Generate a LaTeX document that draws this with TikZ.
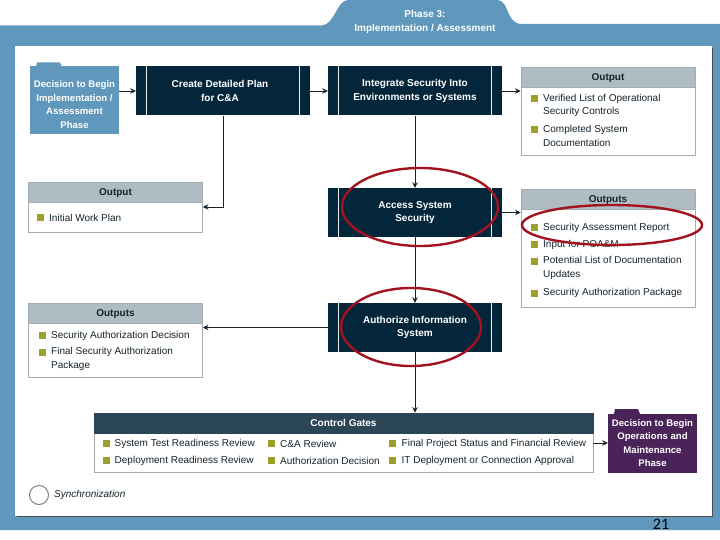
\documentclass[tikz,border=0pt]{standalone}
\usepackage{fontspec}
\setmainfont{Liberation Sans}
\newfontfamily\pagenum{Carlito}
\usetikzlibrary{arrows.meta,calc}
\definecolor{frameblue}{HTML}{5F98BC}
\definecolor{navy}{HTML}{04263B}
\definecolor{gatebar}{HTML}{2A4657}
\definecolor{headgrey}{HTML}{B0BCC4}
\definecolor{edgegrey}{HTML}{A3ADB3}
\definecolor{olive}{HTML}{9DA029}
\definecolor{plum}{HTML}{4A2458}
\definecolor{ringred}{HTML}{A3131F}
\definecolor{ink}{HTML}{16232C}
\newcommand{\fine}{\fontsize{10}{13.6}\selectfont}
\tikzset{
  stage/.style={fill=navy,text=white,minimum width=174,minimum height=49,inner sep=0,align=center,font=\fine\bfseries},
  outbox/.style={draw=edgegrey,line width=0.9pt,fill=white,minimum width=174,inner sep=0},
  outhead/.style={draw=edgegrey,line width=0.9pt,fill=headgrey,text=ink,minimum height=20,inner sep=0,text height=9pt,text depth=2pt,font=\fine\bfseries},
  item/.style={anchor=west,inner sep=0,text=ink,align=left,font=\fine},
  gate/.style={fill=#1,text=white,minimum width=89,minimum height=59,inner sep=0,align=center,font=\fontsize{9.6}{13.6}\selectfont\bfseries},
  flow/.style={ink,line width=0.9pt,-{Stealth[length=5.5pt,width=5.5pt]}},
  ring/.style={ringred,line width=2.4pt}
}
\begin{document}
\begin{tikzpicture}[x=1pt,y=-1pt]
\useasboundingbox (0,0) rectangle (720,540);
\fill[white] (0,0) rectangle (720,540);
% frame and tab
\fill[frameblue] (0,25.5) -- (322,25.5) .. controls (335,24) and (337,0) .. (348,0) -- (497,0) .. controls (510,0) and (505,24) .. (522,24) -- (720,24) -- (720,530) -- (0,530) -- cycle;
\fill[black!70] (17,48) rectangle (713,517);
\fill[white] (15,46) rectangle (711.5,515.5);
\node[inner sep=0,text=white,align=center,font=\fine\bfseries] (phase) at (425,22) {Phase 3:\\Implementation / Assessment};
% decision
\fill[frameblue] (36,67) -- (37,62.5) -- (60,62.5) -- (62,67) -- cycle;
\node[gate=frameblue,minimum height=68] (begin) at (74.5,100) {\rule{0pt}{16pt}Decision to Begin\\Implementation /\\Assessment\\Phase};
\fill[plum] (614,414) -- (615,409) -- (638,409) -- (640,414) -- cycle;
\node[gate=plum] (next) at (652.5,443) {Decision to Begin\\Operations and\\Maintenance\\Phase};
% stages
\node[stage] (plan) at (223,91) {Create Detailed Plan\hspace*{6pt}\\for C\&A\hspace*{6pt}};
\node[stage] (integrate) at (415,91) {Integrate Security Into\\Environments or Systems};
\node[stage] (access) at (415,212.5) {Access System\\Security};
\node[stage] (authorize) at (415,327.5) {Authorize Information\\System};
\foreach \n in {plan,integrate,access,authorize} {
  \draw[white!75!headgrey,line width=1.2pt] ($(\n.north west)+(10.5,0)$) -- ($(\n.south west)+(10.5,0)$);
  \draw[white!75!headgrey,line width=1.2pt] ($(\n.north east)+(-10.5,0)$) -- ($(\n.south east)+(-10.5,0)$);
}
% outputs
\node[outbox,minimum height=50] (outplan) at (115.5,207) {};
\node[outhead,minimum width=174,anchor=north] (outplanh) at (outplan.north) {Output};
\node[outbox,minimum height=88] (outlist) at (608,111) {};
\node[outhead,minimum width=174,anchor=north] (outlisth) at (outlist.north) {Output};
\node[outbox,minimum height=118] (outrep) at (608,248) {};
\node[outhead,minimum width=174,anchor=north] (outreph) at (outrep.north) {Outputs};
\node[outbox,minimum height=74] (outauth) at (115.5,340) {};
\node[outhead,minimum width=174,anchor=north] (outauthh) at (outauth.north) {Outputs};
\node[outbox,minimum width=499,minimum height=59] (gates) at (343.5,442.5) {};
\node[outhead,draw=gatebar,fill=gatebar,text=white,minimum width=499,anchor=north] (gatesh) at (gates.north) {Control Gates};
% list texts
\node[item] (i1) at (49,218) {Initial Work Plan};
\node[item] (i2) at (543,105.5) {Verified List of Operational\\Security Controls};
\node[item] (i3) at (543,136) {Completed System\\Documentation};
\node[item] (i4) at (543,227.5) {Security Assessment Report};
\node[item] (i5) at (543,244.5) {Input for POA\&M};
\node[item] (i6) at (543,268) {Potential List of Documentation\\Updates};
\node[item] (i7) at (543,293) {Security Authorization Package};
\node[item] (i8) at (51,335.5) {Security Authorization Decision};
\node[item] (i9) at (51,359) {Final Security Authorization\\Package};
\node[item] (g1) at (114.5,444) {System Test Readiness Review};
\node[item] (g2) at (114.5,460.5) {Deployment Readiness Review};
\node[item] (g3) at (280,444) {C\&A Review};
\node[item] (g4) at (280,460.5) {Authorization Decision};
\node[item] (g5) at (401.5,444) {Final Project Status and Financial Review};
\node[item] (g6) at (401.5,460.5) {IT Deployment or Connection Approval};
\foreach \x/\y in {36.5/214.5,531/95,531/126,531/224,531/241,531/257.5,531/289.5,38.5/331.5,38.5/348.5,102.5/440,102.5/457,268/440,268/457,388.5/440,388.5/457}
  \fill[olive] (\x,\y) rectangle ++(7,7);
% connectors
\draw[flow] (begin.east |- plan.west) -- (plan.west);
\draw[flow] (plan.east) -- (integrate.west);
\draw[flow] (integrate.east) -- (integrate.east -| outlist.west);
\draw[flow] (plan.south) |- (outplan.east);
\draw[flow] (integrate.south) -- (access.north);
\draw[flow] (access.east) -- (access.east -| outrep.west);
\draw[flow] (access.south) -- (authorize.north);
\draw[flow] (authorize.west) -- (authorize.west -| outauth.east);
\draw[flow] (authorize.south) -- (authorize.south |- gatesh.north);
\draw[flow] (gates.east |- next.center) -- (next.west);
% rings
\draw[ring] (420,207) ellipse [x radius=78,y radius=39];
\draw[ring] (411,327) ellipse [x radius=70,y radius=39];
\draw[ring] (612,225) ellipse [x radius=90,y radius=20];
% synchronization
\draw[black!50,line width=1pt] (39,495) circle (9.5);
\node[item,font=\fine\itshape] (sync) at (54,495) {Synchronization};
\node[inner sep=0,text=black,font=\pagenum\fontsize{16}{18}\selectfont] (pageno) at (661,524) {21};
\end{tikzpicture}
\end{document}
